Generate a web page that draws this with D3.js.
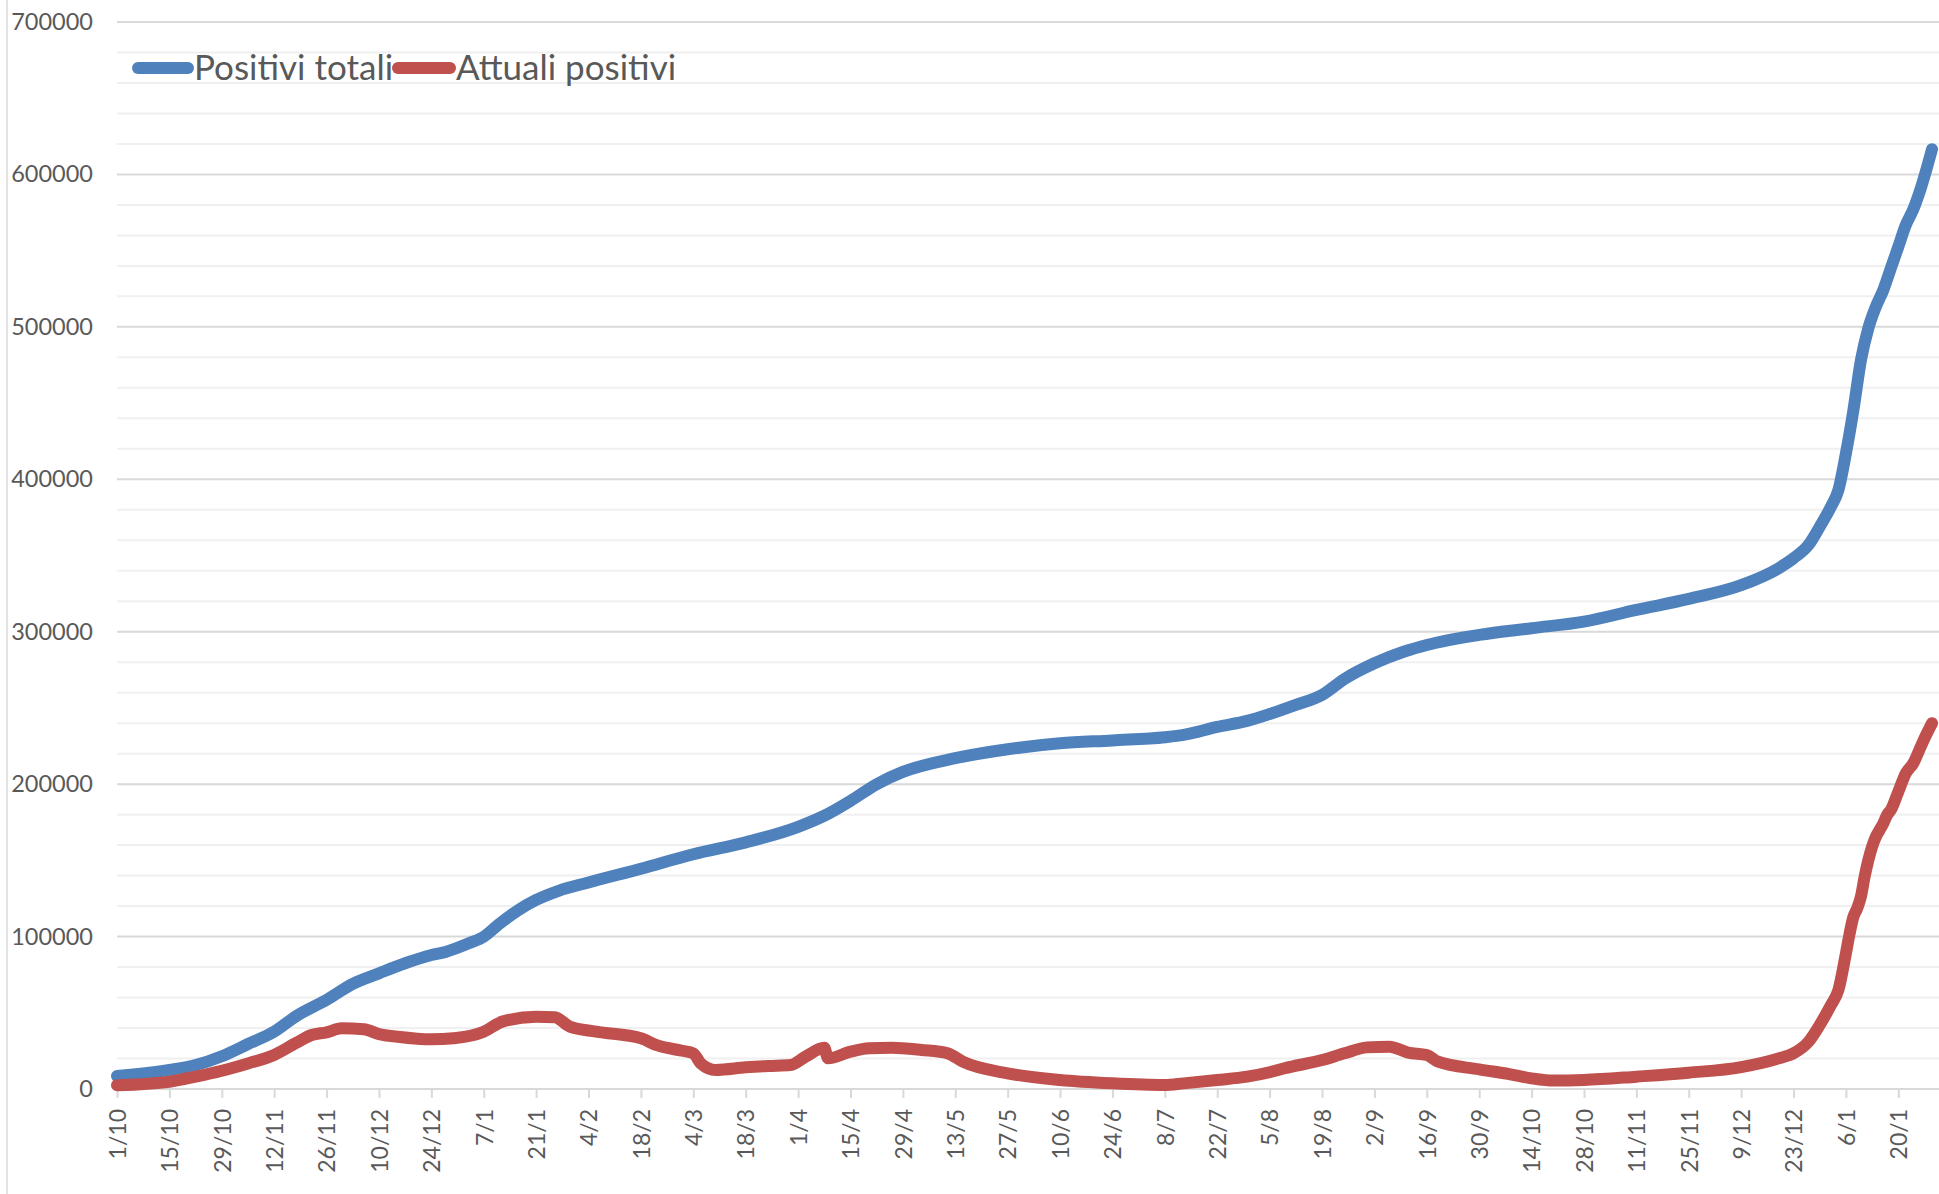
<!DOCTYPE html>
<html>
<head>
<meta charset="utf-8">
<script src="https://cdn.jsdelivr.net/npm/d3@7"></script>
<style>
  html, body { margin: 0; padding: 0; background: #ffffff; }
  svg { display: block; }
</style>
</head>
<body>
<div id="chart"></div>
<script>
// ---- Data ----
const seriesNames = ["Positivi totali", "Attuali positivi"];
const seriesColors = ["#4F81BD", "#C0504D"];

const totaliDates = [
  "2020-10-01","2020-10-15","2020-10-22","2020-10-29","2020-11-05","2020-11-12","2020-11-18","2020-11-26",
  "2020-12-03","2020-12-10","2020-12-17","2020-12-24","2020-12-28","2021-01-03","2021-01-07","2021-01-11",
  "2021-01-16","2021-01-21","2021-01-27","2021-02-04","2021-02-18","2021-03-04","2021-03-18","2021-04-01",
  "2021-04-09","2021-04-15","2021-04-22","2021-04-29","2021-05-13","2021-05-27","2021-06-10","2021-06-24",
  "2021-07-08","2021-07-13","2021-07-22","2021-07-30","2021-08-05","2021-08-12","2021-08-19","2021-08-25",
  "2021-09-02","2021-09-10","2021-09-16","2021-09-30","2021-10-14","2021-10-28","2021-11-11","2021-11-25",
  "2021-12-09","2021-12-19","2021-12-23","2021-12-27","2021-12-30","2022-01-02","2022-01-04","2022-01-06",
  "2022-01-08","2022-01-10","2022-01-12","2022-01-14","2022-01-16","2022-01-18","2022-01-20","2022-01-22",
  "2022-01-24","2022-01-26","2022-01-29"
];
const totaliValues = [
  8500,12500,15700,21500,29500,37600,48000,58500,
  69000,75900,82500,87900,90100,95600,99900,108000,
  117000,124000,130000,135500,144500,154000,161800,172000,
  180500,189000,200000,208000,217000,222900,226800,228700,
  230800,232300,237500,241500,246000,252000,258500,269000,
  279300,287000,291300,297900,302300,306600,314300,321500,
  330500,341600,348200,356900,368900,382000,393000,417000,
  445400,478000,499200,513200,524200,538400,552600,566800,
  577100,590900,616500
];

const attualiDates = [
  "2020-10-01","2020-10-15","2020-10-22","2020-10-29","2020-11-05","2020-11-12","2020-11-18","2020-11-22",
  "2020-11-26","2020-11-30","2020-12-06","2020-12-10","2020-12-15","2020-12-24","2020-12-30","2021-01-07",
  "2021-01-12","2021-01-21","2021-01-26","2021-01-30","2021-02-06","2021-02-18","2021-02-22","2021-03-01",
  "2021-03-04","2021-03-06","2021-03-10","2021-03-18","2021-03-24","2021-03-30","2021-04-03","2021-04-08",
  "2021-04-09","2021-04-15","2021-04-20","2021-04-26","2021-05-04","2021-05-11","2021-05-15","2021-05-27",
  "2021-06-10","2021-06-24","2021-07-08","2021-07-13","2021-07-22","2021-07-30","2021-08-05","2021-08-09",
  "2021-08-19","2021-08-25","2021-08-31","2021-09-06","2021-09-11","2021-09-16","2021-09-19","2021-09-30",
  "2021-10-08","2021-10-14","2021-10-20","2021-10-28","2021-11-11","2021-11-25","2021-12-09","2021-12-19",
  "2021-12-23","2021-12-27","2021-12-30","2022-01-02","2022-01-04","2022-01-06","2022-01-07","2022-01-08",
  "2022-01-09","2022-01-10","2022-01-11","2022-01-12","2022-01-13","2022-01-14","2022-01-15","2022-01-16",
  "2022-01-17","2022-01-18","2022-01-20","2022-01-22","2022-01-24","2022-01-26","2022-01-27","2022-01-29"
];
const attualiValues = [
  2500,4800,8100,12000,16800,22300,30400,35400,
  37200,39800,39200,36000,34300,32600,33300,37600,
  44200,47400,47000,40900,37600,33300,28900,25100,
  23400,16800,12500,14200,15100,15700,21200,27000,
  20100,24500,26700,27100,25600,23400,17900,10300,
  5900,3700,2600,3700,5900,8100,11000,13600,
  19000,23400,27300,27800,23900,22300,17900,12900,
  9800,7000,5500,5900,8100,10700,14400,20100,
  23400,31000,42000,55100,65000,89000,102100,113000,
  118500,126200,139300,150200,159000,165500,169900,174300,
  179800,183000,195000,207100,213700,224600,230100,240000
];

const xTickLabels = [
  "1/10","15/10","29/10","12/11","26/11","10/12","24/12","7/1","21/1","4/2","18/2","4/3",
  "18/3","1/4","15/4","29/4","13/5","27/5","10/6","24/6","8/7","22/7","5/8","19/8",
  "2/9","16/9","30/9","14/10","28/10","11/11","25/11","9/12","23/12","6/1","20/1"
];
const yTickValues = [0,100000,200000,300000,400000,500000,600000,700000];
const yMinorStep = 20000;

// ---- Layout ----
const W = 1939, H = 1194;
const parse = d3.utcParse("%Y-%m-%d");
const startDate = parse("2020-10-01");
const endDate = parse("2022-01-29");

const x = d3.scaleUtc().domain([startDate, endDate]).range([117, 1932]);
const y = d3.scaleLinear().domain([0, 700000]).range([1089, 22]);

const svg = d3.select("#chart").append("svg")
  .attr("width", W).attr("height", H);

const FONT = "Lato, 'Open Sans', sans-serif";
const TEXT = "#595959";

// chart area left border
svg.append("line")
  .attr("x1", 7).attr("x2", 7).attr("y1", 0).attr("y2", H)
  .attr("stroke", "#d9d9d9").attr("stroke-width", 1.5);

// minor gridlines
const minorVals = d3.range(0, 700001, yMinorStep).filter(v => v % 100000 !== 0);
svg.append("g").selectAll("line").data(minorVals).join("line")
  .attr("x1", x.range()[0]).attr("x2", W)
  .attr("y1", d => y(d)).attr("y2", d => y(d))
  .attr("stroke", "#f0f0f0").attr("stroke-width", 2);

// major gridlines
svg.append("g").selectAll("line").data(yTickValues.filter(v => v > 0)).join("line")
  .attr("x1", x.range()[0]).attr("x2", W)
  .attr("y1", d => y(d)).attr("y2", d => y(d))
  .attr("stroke", "#d9d9d9").attr("stroke-width", 2);

// y axis labels
const yAxis = d3.axisLeft(y).tickValues(yTickValues).tickSize(0).tickPadding(24)
  .tickFormat(d3.format("d"));
const gy = svg.append("g").attr("transform", `translate(${x.range()[0]},0)`).call(yAxis);
gy.select(".domain").remove();
gy.selectAll("text").attr("font-family", FONT).attr("font-size", 23.5).attr("fill", TEXT);

// x axis
const tickDates = d3.utcDay.range(startDate, d3.utcDay.offset(endDate, 1), 14);
const labelOf = new Map(tickDates.map((d, i) => [+d, xTickLabels[i]]));
const xAxis = d3.axisBottom(x).tickValues(tickDates).tickSize(9).tickPadding(0)
  .tickFormat(d => labelOf.get(+d));
const gx = svg.append("g").attr("transform", `translate(0,${y(0)})`).call(xAxis);
gx.select(".domain").attr("d", `M${x.range()[0]},0H${W}`)
  .attr("stroke", "#d9d9d9").attr("stroke-width", 2);
gx.selectAll(".tick line").attr("stroke", "#d9d9d9").attr("stroke-width", 2);
gx.selectAll("text")
  .attr("font-family", FONT).attr("font-size", 23).attr("fill", TEXT)
  .attr("text-anchor", "end")
  .attr("transform", "rotate(-90)")
  .attr("x", -20).attr("y", 0).attr("dy", "0.36em");

// series
const totali = totaliDates.map((d, i) => ({ date: parse(d), value: totaliValues[i] }));
const attuali = attualiDates.map((d, i) => ({ date: parse(d), value: attualiValues[i] }));

const line = d3.line().x(d => x(d.date)).y(d => y(d.value)).curve(d3.curveMonotoneX);

[totali, attuali].forEach((data, i) => {
  svg.append("path").datum(data)
    .attr("d", line)
    .attr("fill", "none")
    .attr("stroke", seriesColors[i])
    .attr("stroke-width", 12)
    .attr("stroke-linejoin", "round")
    .attr("stroke-linecap", "round");
});

// legend
const legendItems = [
  { x1: 138, x2: 188, tx: 194 },
  { x1: 398, x2: 450, tx: 456 }
];
const lg = svg.append("g");
legendItems.forEach((it, i) => {
  lg.append("line")
    .attr("x1", it.x1).attr("x2", it.x2).attr("y1", 68).attr("y2", 68)
    .attr("stroke", seriesColors[i]).attr("stroke-width", 12).attr("stroke-linecap", "round");
  lg.append("text")
    .attr("x", it.tx).attr("y", 68).attr("dy", "0.35em")
    .attr("font-family", FONT).attr("font-size", 35).attr("fill", TEXT)
    .text(seriesNames[i]);
});
</script>
</body>
</html>
